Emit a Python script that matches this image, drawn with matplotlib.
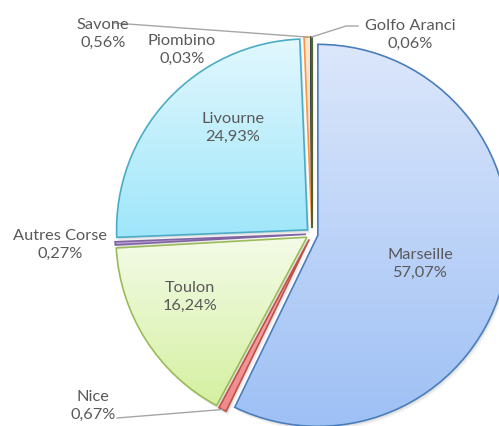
import numpy as np
import matplotlib
matplotlib.use("Agg")
import matplotlib.pyplot as plt
from matplotlib.patches import Wedge
from matplotlib.colors import LinearSegmentedColormap

# data
ports = ["Marseille", "Nice", "Toulon", "Autres Corse", "Livourne",
         "Savone", "Piombino", "Golfo Aranci"]
shares = [57.07, 0.67, 16.24, 0.27, 24.93, 0.56, 0.03, 0.06]
share_labels = ["57,07%", "0,67%", "16,24%", "0,27%", "24,93%",
                "0,56%", "0,03%", "0,06%"]

# styling (top colour, bottom colour, edge colour)
fills_top = ["#dce7fb", "#f7b2b0", "#f4fbe8", "#cdbde3", "#e2f8fe",
             "#fde6d3", "#24406e", "#566b2c"]
fills_bottom = ["#9ec0f5", "#f08a88", "#d4f0a0", "#b39bd3", "#9fe6fa",
                "#fbd0ae", "#1f3864", "#4f6228"]
edges = ["#4a7ebb", "#c0504d", "#9bbb59", "#8064a2", "#4bacc6",
         "#f79646", "#1f3864", "#4f6228"]

# label placement in figure pixels (x, y from top)
label_pos = {
    "Marseille": (420, 264),
    "Nice": (93, 406),
    "Toulon": (190, 297),
    "Autres Corse": (60, 245),
    "Livourne": (233, 128),
    "Savone": (103, 34),
    "Piombino": (182, 50),
    "Golfo Aranci": (410, 35),
}

W, H = 499, 426
cx, cy, r = 312, H - 234, 191

plt.rcParams["font.family"] = ["Lato", "DejaVu Sans"]
txt_color = "#595959"
line_color = "#a6a6a6"

fig = plt.figure(figsize=(W / 100, H / 100), dpi=100)
ax = fig.add_axes([0, 0, 1, 1])

wedges, _ = ax.pie(shares, startangle=90, counterclock=False,
                   center=(cx, cy), radius=r, explode=[6] * len(shares),
                   wedgeprops=dict(linewidth=1.2))

grad = np.linspace(1, 0, 256)[:, None]
for w, top, bot, ec in zip(wedges, fills_top, fills_bottom, edges):
    # soft shadow
    for k, a in [(4, 0.06), (3, 0.08), (2, 0.10)]:
        sh = Wedge((w.center[0] + k * 0.6, w.center[1] - k), w.r,
                   w.theta1, w.theta2, facecolor="#7f7f7f", edgecolor="none",
                   alpha=a, zorder=0.5)
        ax.add_patch(sh)
    bb = w.get_path().get_extents()
    cmap = LinearSegmentedColormap.from_list("g", [top, bot])
    im = ax.imshow(grad, cmap=cmap, extent=(bb.x0, bb.x1, bb.y0, bb.y1),
                   origin="lower", aspect="auto", zorder=1,
                   interpolation="bicubic")
    im.set_clip_path(w)
    w.set_facecolor("none")
    w.set_edgecolor(ec)
    w.set_zorder(2)


def rim_point(w, frac=1.0):
    ang = np.deg2rad((w.theta1 + w.theta2) / 2)
    return (w.center[0] + w.r * frac * np.cos(ang),
            w.center[1] + w.r * frac * np.sin(ang))


for name, lab in zip(ports, share_labels):
    x, y = label_pos[name]
    ax.text(x, H - y, f"{name}\n{lab}", ha="center", va="center",
            fontsize=11.8, color=txt_color, linespacing=1.42, zorder=5)

# leader lines
idx = {n: i for i, n in enumerate(ports)}
px, py = rim_point(wedges[idx["Savone"]], 1.0)
ax.plot([114, px], [H - 23, py], color=line_color, lw=1, zorder=4)

px, py = rim_point(wedges[idx["Golfo Aranci"]], 1.0)
ax.plot([358, 346, px], [H - 26, H - 26, py], color=line_color, lw=1, zorder=4)

px, py = rim_point(wedges[idx["Nice"]], 1.0)
ax.plot([117, px], [H - 418, py], color=line_color, lw=1, zorder=4)

ax.set_xlim(0, W)
ax.set_ylim(0, H)
ax.set_aspect("auto")
ax.axis("off")

fig.savefig("out.png", dpi=100)
